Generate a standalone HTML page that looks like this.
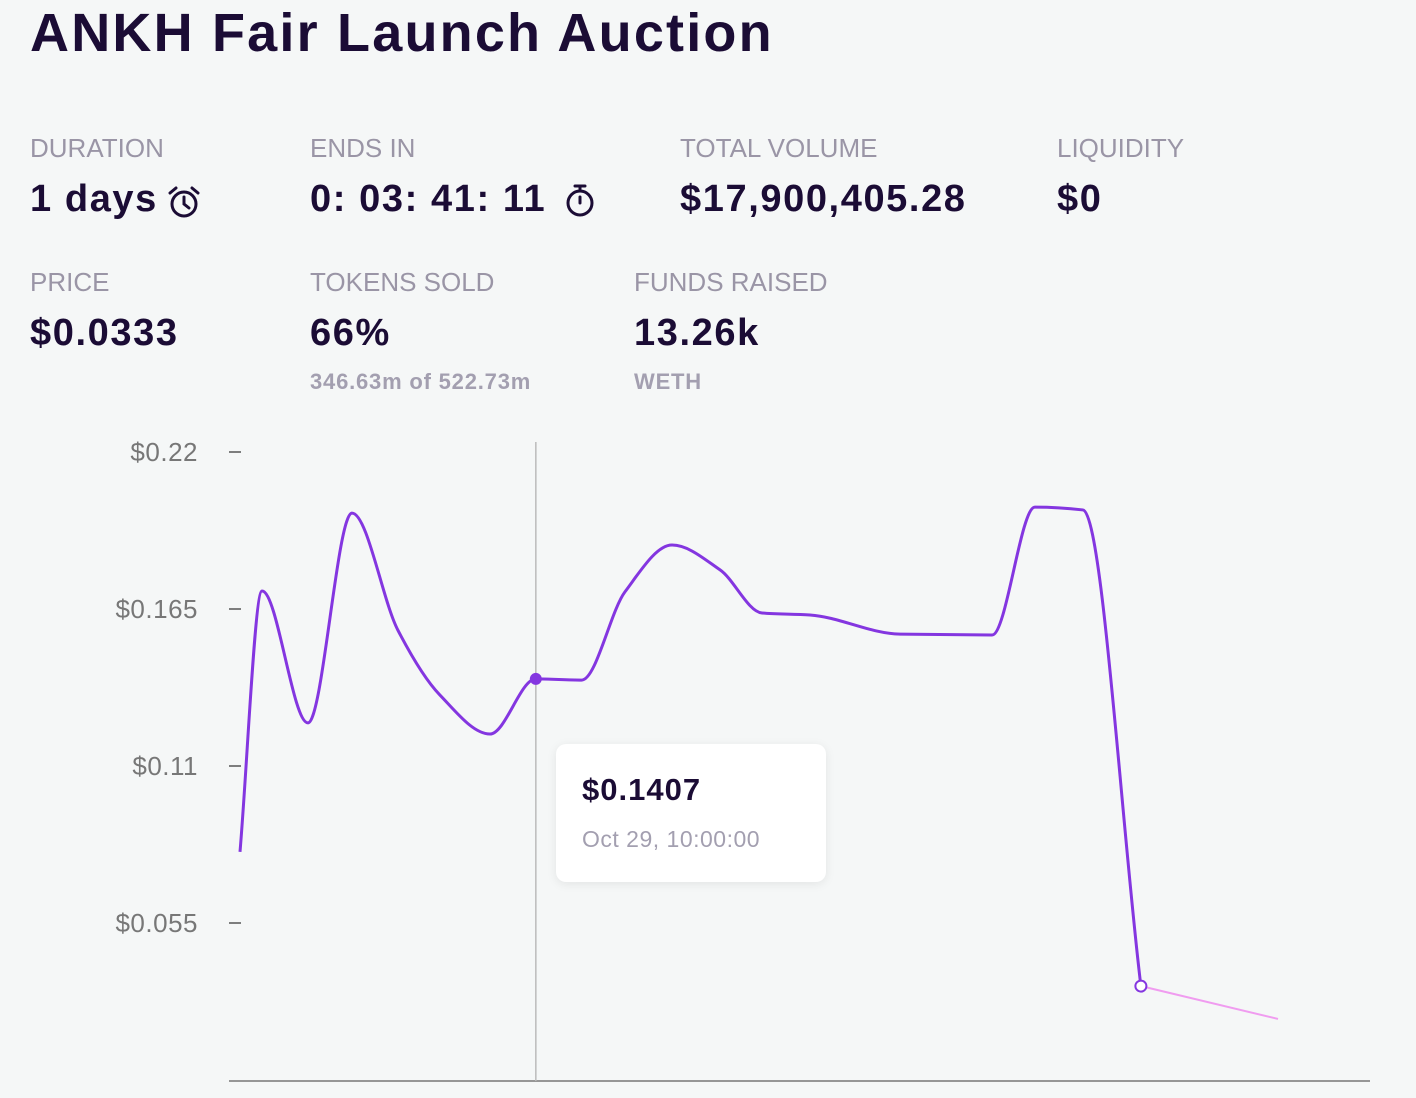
<!DOCTYPE html>
<html><head><meta charset="utf-8"><style>
body{margin:0;width:1416px;height:1098px;background:#f5f7f7;font-family:"Liberation Sans",sans-serif;color:#1b0c35;position:relative;overflow:hidden}
.a{position:absolute;white-space:nowrap}
.t{font-size:54px;font-weight:bold;letter-spacing:2.2px}
.l{font-size:26px;color:#9a95a6}
.v{font-size:38px;font-weight:bold;letter-spacing:1.6px}
.s{font-size:22px;font-weight:bold;color:#a39fb0;letter-spacing:0.8px}
</style></head><body>
<div class="a t" style="left:30px;top:2px">ANKH Fair Launch Auction</div>
<div class="a l" style="left:30px;top:133px">DURATION</div>
<div class="a v" style="left:30px;top:178px">1 days</div>
<svg class="a" style="left:166px;top:185px" width="36" height="36" viewBox="0 0 36 36"><circle cx="18" cy="19" r="12" fill="none" stroke="#1b0c35" stroke-width="3"/><path d="M18 12v7l5 4M4 8l6-5M32 8l-6-5" fill="none" stroke="#1b0c35" stroke-width="3" stroke-linecap="round"/></svg>
<div class="a l" style="left:310px;top:133px">ENDS IN</div>
<div class="a v" style="left:310px;top:178px">0: 03: 41: 11</div>
<svg class="a" style="left:563px;top:182px" width="34" height="36" viewBox="0 0 34 36"><circle cx="17" cy="21" r="12" fill="none" stroke="#1b0c35" stroke-width="3"/><path d="M12 4h10M17 4v5M17 21v-6" fill="none" stroke="#1b0c35" stroke-width="3" stroke-linecap="round"/></svg>
<div class="a l" style="left:680px;top:133px">TOTAL VOLUME</div>
<div class="a v" style="left:680px;top:178px">$17,900,405.28</div>
<div class="a l" style="left:1057px;top:133px">LIQUIDITY</div>
<div class="a v" style="left:1057px;top:178px">$0</div>
<div class="a l" style="left:30px;top:267px">PRICE</div>
<div class="a v" style="left:30px;top:312px">$0.0333</div>
<div class="a l" style="left:310px;top:267px">TOKENS SOLD</div>
<div class="a v" style="left:310px;top:312px">66%</div>
<div class="a s" style="left:310px;top:369px">346.63m of 522.73m</div>
<div class="a l" style="left:634px;top:267px">FUNDS RAISED</div>
<div class="a v" style="left:634px;top:312px">13.26k</div>
<div class="a s" style="left:634px;top:369px">WETH</div>
<svg id="c" class="a" style="left:0;top:0" width="1416" height="1098"></svg>
<div class="a" style="left:556px;top:744px;width:270px;height:138px;background:#fff;border-radius:10px;box-shadow:0 2px 10px rgba(0,0,0,0.08)">
<div class="a" style="left:26px;top:28px;font-size:31px;font-weight:bold;letter-spacing:1px">$0.1407</div>
<div class="a" style="left:26px;top:82px;font-size:23px;color:#a39fb0;letter-spacing:0.5px">Oct 29, 10:00:00</div>
</div>
<script>
const hours=[0,0.51,1.57,2.59,3.65,4.62,5.78,6.84,7.90,8.90,9.99,11.1,12.07,13.18,15.26,17.39,18.38,19.49,20.83];
const prices=[0.0799,0.1713,0.1251,0.1986,0.1576,0.1349,0.1212,0.1405,0.1401,0.1710,0.1874,0.1787,0.1636,0.1629,0.1562,0.1559,0.2007,0.1997,0.0329];
const projHours=[20.83,24];
const projPrices=[0.0329,0.0214];
const yTicks=[0.22,0.165,0.11,0.055];
const yTickLabels=["$0.22","$0.165","$0.11","$0.055"];
const hoverIndex=7;
const NS="http://www.w3.org/2000/svg";
const svg=document.getElementById('c');
const X=h=>240+h*43.25, Y=v=>1080-v/0.055*157;
function mk(t,a){const e=document.createElementNS(NS,t);for(const k in a)e.setAttribute(k,a[k]);svg.appendChild(e);return e;}
yTicks.forEach((t,i)=>{
 const l=mk('line',{x1:229,x2:241,y1:Y(t),y2:Y(t),stroke:'#555','stroke-width':1.5});
 
 
 const tx=mk('text',{x:198,y:Y(t)+9,'text-anchor':'end','font-size':26,fill:'#777','font-family':'Liberation Sans, sans-serif','letter-spacing':'0.5'});
 tx.textContent=yTickLabels[i];
 
 
});
const ax=mk('line',{x1:229,x2:1370,y1:1081,y2:1081,stroke:'#777','stroke-width':1.5});


const hx=X(hours[hoverIndex]);
const cr=mk('line',{x1:hx,x2:hx,y1:442,y2:1081,stroke:'#bbb','stroke-width':1.5});


function mono(xs,ys){const n=xs.length,d=[],m=[];for(let i=0;i<n-1;i++)d.push((ys[i+1]-ys[i])/(xs[i+1]-xs[i]));
 m[0]=d[0];m[n-1]=d[n-2];for(let i=1;i<n-1;i++){m[i]=d[i-1]*d[i]<=0?0:2/(1/d[i-1]+1/d[i]);}
 let p=`M${xs[0]},${ys[0]}`;for(let i=0;i<n-1;i++){const h=(xs[i+1]-xs[i])/3;p+=`C${xs[i]+h},${ys[i]+m[i]*h} ${xs[i+1]-h},${ys[i+1]-m[i+1]*h} ${xs[i+1]},${ys[i+1]}`;}return p;}
const ln=mk('path',{d:mono(hours.map(X),prices.map(Y)),fill:'none',stroke:'#8436e0','stroke-width':3,'stroke-linejoin':'round'});


const pj=mk('path',{d:`M${X(projHours[0])},${Y(projPrices[0])}L${X(projHours[1])},${Y(projPrices[1])}`,stroke:'#f09cf0','stroke-width':2,fill:'none'});


const hd=mk('circle',{cx:hx,cy:Y(prices[hoverIndex]),r:6,fill:'#8436e0'});


const cd=mk('circle',{cx:X(hours[hours.length-1]),cy:Y(prices[prices.length-1]),r:5.5,fill:'#fff',stroke:'#8436e0','stroke-width':2});


</script>
</body></html>
